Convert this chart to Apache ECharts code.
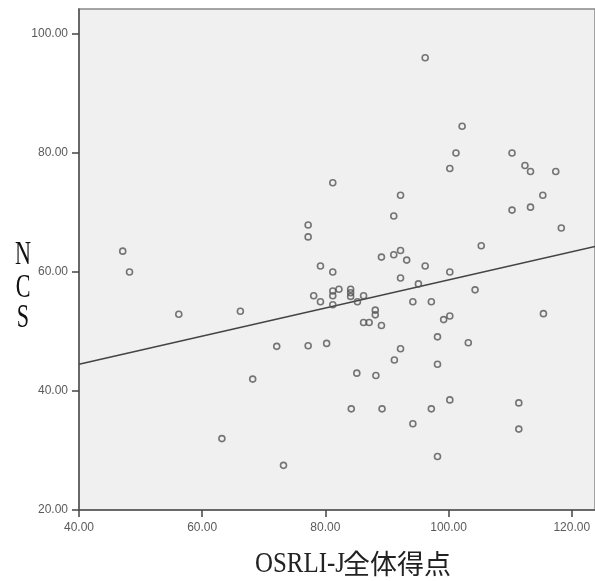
<!DOCTYPE html>
<html>
<head>
<meta charset="utf-8">
<script src="https://cdn.jsdelivr.net/npm/echarts@6/dist/echarts.min.js"></script>
<style>
html,body{margin:0;padding:0;background:#fff;}
#chart{width:595px;height:581px;}
</style>
</head>
<body>
<div id="chart"></div>
<script>
// OSRLI-J total score (x) and NCS (y)
const osrliScores = [47.1,48.2,56.2,66.2,72.1,68.2,63.2,73.2,96.2,102.2,101.2,100.2,110.3,112.4,113.3,117.4,115.3,113.3,110.3,118.3,81.2,92.2,91.1,77.2,77.2,105.3,89.1,91.1,92.2,93.2,79.2,81.2,96.2,100.2,92.2,95.1,104.3,78.1,79.2,81.2,81.2,81.2,82.2,84.1,84.1,84.1,85.2,86.2,88.1,88.1,86.2,87.1,89.1,94.2,97.2,99.2,100.2,98.2,92.2,77.2,80.2,91.2,98.2,85.1,88.2,84.2,89.2,97.2,100.2,94.2,98.2,115.4,103.2,111.4,111.4];
const ncsScores   = [63.5,60.0,52.9,53.4,47.5,42.0,32.0,27.5,96.0,84.5,80.0,77.4,80.0,77.9,76.9,76.9,72.9,70.9,70.4,67.4,75.0,72.9,69.4,67.9,65.9,64.4,62.5,62.9,63.6,62.0,61.0,60.0,61.0,60.0,59.0,58.0,57.0,56.0,55.0,56.8,56.0,54.5,57.1,57.1,56.5,55.9,55.0,56.0,53.6,52.8,51.5,51.5,51.0,55.0,55.0,52.0,52.6,49.1,47.1,47.6,48.0,45.2,44.5,43.0,42.6,37.0,37.0,37.0,38.5,34.5,29.0,53.0,48.1,38.0,33.6];
// fit line endpoints
const fitX = [40, 123.77];
const fitY = [44.5, 64.3];
// tick labels
const xTicks = [40, 60, 80, 100, 120];
const yTicks = [20, 40, 60, 80, 100];
const xTitleLatin = 'OSRLI-J';
const xTitleCJK = '全体得点';
const yTitleLetters = ['N', 'C', 'S'];

const points = osrliScores.map((x, i) => [x, ncsScores[i]]);
const fitLine = fitX.map((x, i) => [x, fitY[i]]);

const chart = echarts.init(document.getElementById('chart'));
const labelStyle = {color: '#5a5a5a', fontSize: 12, fontFamily: 'Liberation Sans, Arial, sans-serif'};

const yLetterCenters = [255, 288, 318];
const graphics = yTitleLetters.map((t, i) => ({
  type: 'text',
  x: 23, y: yLetterCenters[i],
  scaleX: 0.65,
  style: {
    text: t, fill: '#111',
    font: '34px "Liberation Serif", serif',
    align: 'center', verticalAlign: 'middle'
  }
}));
graphics.push({
  type: 'text',
  x: 255, y: 564,
  scaleX: 0.83,
  style: {
    text: xTitleLatin, fill: '#222',
    font: '30px "Liberation Serif", serif',
    align: 'left', verticalAlign: 'middle'
  }
});
graphics.push({
  type: 'text',
  x: 343, y: 564,
  style: {
    text: xTitleCJK, fill: '#222',
    font: '27px "Noto Sans CJK JP", sans-serif',
    align: 'left', verticalAlign: 'middle'
  }
});

chart.setOption({
  backgroundColor: '#fff',
  animation: false,
  grid: {
    left: 79, top: 9, right: 0, bottom: 71,
    show: true, backgroundColor: '#f0f0f0',
    borderColor: '#888', borderWidth: 1.5,
    containLabel: false
  },
  xAxis: {
    type: 'value', min: 40, max: 123.77,
    interval: 20,
    splitLine: {show: false},
    axisLine: {show: true, lineStyle: {color: '#555', width: 1.5}},
    axisTick: {show: true, length: 7, customValues: xTicks, lineStyle: {color: '#444', width: 1.5}},
    axisLabel: {
      customValues: xTicks, margin: 12, ...labelStyle,
      formatter: v => v.toFixed(2)
    }
  },
  yAxis: {
    type: 'value', min: 20, max: 104.2,
    interval: 20,
    splitLine: {show: false},
    axisLine: {show: true, lineStyle: {color: '#555', width: 1.5}},
    axisTick: {show: true, length: 7, customValues: yTicks, lineStyle: {color: '#444', width: 1.5}},
    axisLabel: {
      customValues: yTicks, margin: 11, ...labelStyle,
      formatter: v => v.toFixed(2)
    }
  },
  series: [
    {
      type: 'line',
      data: fitLine,
      showSymbol: false,
      symbol: 'none',
      lineStyle: {color: '#444', width: 1.6},
      z: 3
    },
    {
      type: 'scatter',
      data: points,
      symbol: 'circle',
      symbolSize: 6,
      itemStyle: {color: 'rgba(0,0,0,0)', borderColor: '#555', borderWidth: 1.6},
      z: 4
    }
  ],
  graphic: graphics
});
</script>
</body>
</html>
